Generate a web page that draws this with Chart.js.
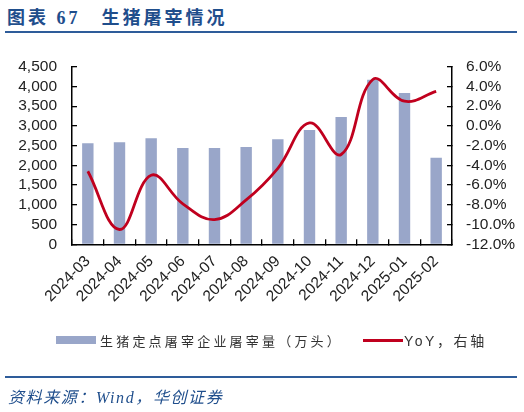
<!DOCTYPE html>
<html>
<head>
<meta charset="utf-8">
<script src="https://cdn.jsdelivr.net/npm/chart.js@4"></script>
<style>
  html, body { margin:0; padding:0; background:#fff; }
  #wrap { position:relative; width:524px; height:412px; overflow:hidden; }
  #chart { position:absolute; left:0; top:0; }
  .title { position:absolute; left:7px; top:3px; font:bold 18px "Liberation Serif","Noto Sans CJK SC",serif; color:#1F4E8C; letter-spacing:3px; white-space:nowrap; }
  .rule { position:absolute; left:5px; width:512px; background:#2E5C9A; }
  .legend { position:absolute; top:329px; font:13px "Noto Sans CJK SC",sans-serif; color:#333; white-space:nowrap; }
  .src { position:absolute; left:8px; top:384px; font:italic 16px "Liberation Serif","Noto Sans CJK SC",serif; color:#1F4E8C; letter-spacing:1.6px; white-space:nowrap; }
</style>
</head>
<body>
<div id="wrap">
  <div class="title">图表 67　生猪屠宰情况</div>
  <div class="rule" style="top:31px;height:2px;"></div>
  <canvas id="chart" width="524" height="412"></canvas>
  <div class="legend" style="left:56px;">
    <span style="display:inline-block;width:40px;height:8px;background:#99A6C9;vertical-align:middle;margin-right:4px;"></span><span style="letter-spacing:3.2px;vertical-align:middle;">生猪定点屠宰企业屠宰量（万头）</span>
  </div>
  <div class="legend" style="left:363px;">
    <span style="display:inline-block;width:40px;height:3px;background:#C0001E;vertical-align:middle;margin-right:1px;"></span><span style="letter-spacing:2.6px;vertical-align:middle;font-size:14px;font-family:'Liberation Sans','Noto Sans CJK SC',sans-serif;">YoY，右轴</span>
  </div>
  <div class="rule" style="top:376px;height:1.5px;"></div>
  <div class="src">资料来源：Wind，华创证券</div>
</div>
<script>
// months shown on the x axis
const months = ['2024-03','2024-04','2024-05','2024-06','2024-07','2024-08',
                '2024-09','2024-10','2024-11','2024-12','2025-01','2025-02'];
// slaughter volume, 10k head (left axis)
const slaughter = [2559, 2584, 2685, 2440, 2440, 2465, 2660, 2896, 3225, 4170, 3833, 2194];
// year-over-year change, % (right axis)
const yoy = [-4.6, -10.5, -5.0, -7.9, -9.5, -7.5, -4.3, 0.3, -2.9, 4.7, 2.5, 3.5];

const tickFont = { family: 'Liberation Sans, Arial, sans-serif', size: 15.5 };
// ticks point into the plot area, like the original
const axisGrid = { drawOnChartArea:false, drawTicks:true, tickLength:-5, color:'#000', lineWidth:1.3 };

new Chart(document.getElementById('chart'), {
  type: 'bar',
  data: {
    labels: months,
    datasets: [
      { type:'line', label:'YoY，右轴', data:yoy, yAxisID:'y1', borderColor:'#C0001E',
        borderWidth:2.8, pointRadius:0, tension:0.4, fill:false, order:0 },
      { type:'bar', label:'生猪定点屠宰企业屠宰量（万头）', data:slaughter, yAxisID:'y',
        backgroundColor:'#99A6C9', barPercentage:0.36, categoryPercentage:1.0, order:1 }
    ]
  },
  options: {
    responsive:false, animation:false,
    layout: { padding: { top:66.7, left:0, right:0, bottom:0 } },
    plugins: { legend:{ display:false }, tooltip:{ enabled:false } },
    scales: {
      x: {
        grid: { ...axisGrid, offset:true },
        border: { color:'#000', width:1.5 },
        ticks: { color:'#222', font:tickFont, maxRotation:45, minRotation:45, padding:13, autoSkip:false },
        afterFit: s => { s.height = 412 - 244.3; }
      },
      y: {
        position:'left', min:0, max:4500,
        grid: axisGrid,
        border: { color:'#000', width:1.5 },
        ticks: { stepSize:500, autoSkip:false, color:'#222', font:tickFont, padding:20,
                 callback: v => v.toLocaleString('en-US') },
        afterFit: s => { s.width = 72; }
      },
      y1: {
        position:'right', min:-12, max:6,
        grid: axisGrid,
        border: { color:'#000', width:1.5 },
        ticks: { stepSize:2, autoSkip:false, color:'#222', font:tickFont, padding:19,
                 callback: v => v.toFixed(1) + '%' },
        afterFit: s => { s.width = 72; }
      }
    }
  }
});
</script>
</body>
</html>
